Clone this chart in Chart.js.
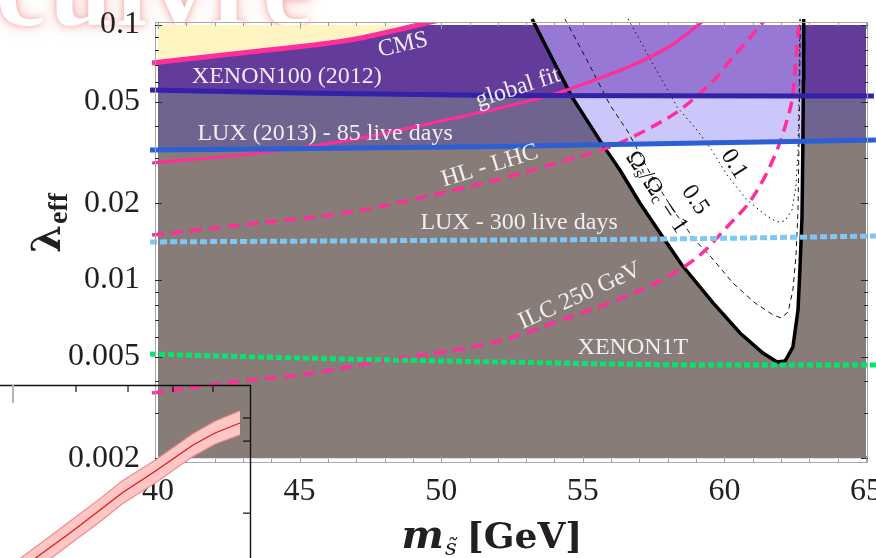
<!DOCTYPE html>
<html>
<head>
<meta charset="utf-8">
<script src="https://cdn.jsdelivr.net/npm/chart.js@4/dist/chart.umd.min.js"></script>
<style>
  html, body { margin: 0; padding: 0; background: #fff; overflow: hidden; width: 876px; height: 558px; }
  #wrap { position: relative; width: 876px; height: 558px; overflow: hidden; }
  #banner { position: absolute; left: -4px; top: -73px; font: bold 112px "Liberation Serif", serif; letter-spacing: 4px;
            color: #fff; white-space: nowrap; z-index: 0; line-height: 120px;
            text-shadow: 0 0 6px rgba(232, 110, 98, .5), 0 0 16px rgba(236, 128, 116, .42); }
  #main { position: absolute; left: 0; top: 0; z-index: 1; }
  #inset { position: absolute; left: -350px; top: 380px; z-index: 2; }
</style>
</head>
<body>
<div id="wrap">
  <div id="banner">cuivre</div>
  <canvas id="main" width="876" height="558"></canvas>
  <canvas id="inset" width="610" height="360"></canvas>
</div>
<script>
// ---------- plot range and ticks ----------
const X_RANGE = [40, 65];            // shaded parameter region, GeV
const Y_RANGE = [0.002, 0.1];        // shaded parameter region, lambda_eff
const X_AXIS = [39.894, 65.071];     // frame limits (a little padding round the region)
const Y_AXIS = [0.001916, 0.10275];
const X_TICKS = [40, 45, 50, 55, 60, 65];
const Y_TICKS = [0.002, 0.005, 0.01, 0.02, 0.05, 0.1];
const Y_TICK_LABELS = ['0.002', '0.005', '0.01', '0.02', '0.05', '0.1'];

// ---------- collider limits (pink) ----------
const CMS_X = [39.79, 43.25, 46.78, 49.95];
const CMS_Y = [0.0710, 0.0784, 0.0873, 0.1046];
const GLOBAL_X = [39.79, 43.25, 46.78, 50.31, 52.08, 53.24, 54.44, 55.61, 56.77, 57.97, 58.54, 59.21];
const GLOBAL_Y = [0.02876, 0.03120, 0.03540, 0.04279, 0.04727, 0.05081, 0.05559, 0.06197, 0.06966, 0.08125, 0.08973, 0.1027];
const HLLHC_X = [39.79, 43.25, 46.78, 50.31, 52.08, 54.44, 55.96, 57.37, 58.43, 59.14, 59.74, 60.30, 60.90, 61.43];
const HLLHC_Y = [0.01501, 0.01658, 0.01848, 0.02234, 0.02490, 0.02955, 0.03324, 0.03945, 0.04642, 0.05412, 0.06253, 0.07493, 0.08892, 0.1046];
const ILC_X = [39.79, 43.25, 45.01, 48.55, 50.91, 52.54, 54.44, 56.21, 57.97, 59.14, 60.09, 61.01, 61.86, 62.21, 62.42, 62.63];
const ILC_Y = [0.003604, 0.004054, 0.004241, 0.004944, 0.005410, 0.005975, 0.007096, 0.008350, 0.01027, 0.01253, 0.01614, 0.02116, 0.03235, 0.04241, 0.05412, 0.1027];

// ---------- direct detection limits ----------
const XENON100_X = [39.72, 45.01, 52.08, 65.28];
const XENON100_Y = [0.05559, 0.05412, 0.05291, 0.05267];
const LUX13_X = [39.72, 52.08, 59.14, 65.35];
const LUX13_Y = [0.03235, 0.03339, 0.03446, 0.03540];
const LUX300_X = [39.72, 52.08, 57.97, 65.35];
const LUX300_Y = [0.01410, 0.01435, 0.01448, 0.01488];
const XENON1T_X = [39.72, 45.01, 52.08, 59.84, 65.35];
const XENON1T_Y = [0.005125, 0.004944, 0.004769, 0.004642, 0.004642];

// ---------- relic density contours (Omega_s / Omega_c) ----------
const RELIC1_X = [53.21, 53.91, 54.62, 55.25, 55.71, 56.31, 57.02, 57.83, 58.50, 59.60, 60.55, 61.36, 61.86, 62.14, 62.42, 62.60, 62.67, 62.74, 62.77, 62.79, 62.80];
const RELIC1_Y = [0.1056, 0.0742, 0.0522, 0.0406, 0.0338, 0.0270, 0.0200, 0.0147, 0.01145, 0.00813, 0.00620, 0.00517, 0.00477, 0.00481, 0.00546, 0.00763, 0.01124, 0.01766, 0.03235, 0.0608, 0.1056];
const RELIC05_X = [54.37, 55.18, 55.96, 56.60, 57.37, 58.19, 58.96, 59.56, 60.30, 61.08, 61.72, 62.00, 62.25, 62.42, 62.53, 62.60, 62.63, 62.66, 62.68];
const RELIC05_Y = [0.1056, 0.0716, 0.04857, 0.03805, 0.02628, 0.01881, 0.01435, 0.0122, 0.00973, 0.00813, 0.00729, 0.0071, 0.00749, 0.00914, 0.01253, 0.01881, 0.03235, 0.0608, 0.1056];
const RELIC01_X = [56.60, 57.44, 58.33, 59.03, 59.60, 60.09, 60.80, 61.50, 61.86, 62.14, 62.39, 62.53, 62.60, 62.63, 62.66];
const RELIC01_Y = [0.1056, 0.0716, 0.04770, 0.03876, 0.03177, 0.02581, 0.02059, 0.01782, 0.01689, 0.01704, 0.01881, 0.02358, 0.03235, 0.05081, 0.1056];

// ---------- lower-left panel: band with central curve ----------
const INSET_X = [5.833, 6.45, 7.0, 7.5, 7.867, 8.45, 9.05, 9.417, 9.833];
const INSET_MID = [4.366, 5.155, 5.831, 6.479, 6.958, 7.606, 8.31, 8.648, 8.93];
const INSET_HIGH = [4.696, 5.465, 6.161, 6.799, 7.298, 7.916, 8.63, 8.978, 9.27];
const INSET_LOW = [4.046, 4.825, 5.521, 6.149, 6.648, 7.276, 7.99, 8.338, 8.60];
const INSET_TOP_TICKS = [7.1, 7.967, 8.717, 9.383];
const INSET_TOP_MAJOR = [6.05];
const INSET_RIGHT_TICKS = [9.07, 8.42, 6.39];

// ---------- helpers (log-linear geometry in data space) ----------
const pts = (xs, ys) => xs.map((x, i) => ({ x, y: ys[i] }));
const lg = Math.log10;
function logAt(c, x) {
  let i = 1;
  while (i < c.length - 1 && c[i].x < x) i++;
  const a = c[i - 1], b = c[i];
  const t = (x - a.x) / (b.x - a.x);
  return lg(a.y) + t * (lg(b.y) - lg(a.y));
}
// pointwise max/min of two curves over the span of f, with crossing points inserted
function combine(f, g, pick) {
  const x0 = f[0].x, x1 = f[f.length - 1].x;
  const xs = [...new Set([...f.map(p => p.x), ...g.map(p => p.x).filter(x => x > x0 && x < x1)])].sort((a, b) => a - b);
  const out = [];
  let prev = null;
  for (const x of xs) {
    const a = logAt(f, x), b = logAt(g, x), d = a - b;
    if (prev && prev.d * d < 0) {
      const xc = prev.x + (x - prev.x) * prev.d / (prev.d - d);
      out.push({ x: xc, y: Math.pow(10, logAt(f, xc)) });
    }
    out.push({ x, y: Math.pow(10, pick(a, b)) });
    prev = { x, d };
  }
  return out;
}
function clipX(c, x0, x1) {
  const at = x => ({ x, y: Math.pow(10, logAt(c, x)) });
  const out = [];
  if (c[0].x < x0) out.push(at(x0));
  for (const p of c) if (p.x >= x0 && p.x <= x1) out.push(p);
  if (c[c.length - 1].x > x1) out.push(at(x1));
  return out;
}

const cms = pts(CMS_X, CMS_Y);
const globalFit = pts(GLOBAL_X, GLOBAL_Y);
const hllhc = pts(HLLHC_X, HLLHC_Y);
const ilc = pts(ILC_X, ILC_Y);
const xenon100 = pts(XENON100_X, XENON100_Y);
const lux13 = pts(LUX13_X, LUX13_Y);
const lux300 = pts(LUX300_X, LUX300_Y);
const xenon1t = pts(XENON1T_X, XENON1T_Y);
const relic1 = pts(RELIC1_X, RELIC1_Y);
const relic05 = pts(RELIC05_X, RELIC05_Y);
const relic01 = pts(RELIC01_X, RELIC01_Y);
const topEdge = [{ x: X_RANGE[0], y: Y_RANGE[1] }, { x: X_RANGE[1], y: Y_RANGE[1] }];

const capTop = c => combine(c, topEdge, Math.min);
const allowedAll = capTop(relic1);
const allowedBelowX100 = capTop(combine(relic1, lux13, Math.max));
const allowedAboveX100 = capTop(combine(relic1, xenon100, Math.max));

// ---------- dataset builders ----------
const NONE = 'rgba(0,0,0,0)';
function area(data, color, order, bound) {
  return { data, borderColor: NONE, borderWidth: 1, backgroundColor: color, fill: { value: bound }, pointRadius: 0, order, tension: 0 };
}
function curve(data, color, width, dash, order, clip, smooth) {
  return {
    data, borderColor: color, borderWidth: width, borderDash: dash, fill: false, pointRadius: 0, order, clip,
    tension: 0, cubicInterpolationMode: smooth ? 'monotone' : 'default', borderCapStyle: 'butt', borderJoinStyle: 'round'
  };
}

const PINK = '#ff2e98';
const datasets = [
  // regions, bottom layer first
  area(topEdge, '#877c77', 100, Y_RANGE[0]),                               // excluded by relic density
  area(clipX(lux13, X_RANGE[0], X_RANGE[1]), '#6e648f', 99, Y_RANGE[1]),   // LUX 2013
  area(clipX(xenon100, X_RANGE[0], X_RANGE[1]), '#623b9b', 98, Y_RANGE[1]),// XENON100
  area(capTop(clipX(cms, X_RANGE[0], X_RANGE[1])), '#fff5c3', 97, Y_RANGE[1]), // CMS
  area(allowedAll, '#ffffff', 96, Y_RANGE[1]),
  area(allowedBelowX100, '#cbc7fb', 95, Y_RANGE[1]),
  area(allowedAboveX100, '#9878d5', 94, Y_RANGE[1]),
  // relic density contours
  curve(relic01, '#111', 1, [1.5, 3.5], 62, { left: 0, top: 4, right: 0, bottom: 0 }, false),
  curve(relic05, '#111', 1, [5, 4], 61, { left: 0, top: 4, right: 0, bottom: 0 }, false),
  curve(relic1, '#000', 3.5, [], 60, { left: 0, top: 4, right: 0, bottom: 0 }, false),
  // collider limits
  curve(cms, PINK, 5, [], 44, { left: 4, top: 0, right: 0, bottom: 0 }, true),
  curve(globalFit, PINK, 3.2, [], 43, { left: 4, top: 0, right: 0, bottom: 0 }, true),
  curve(hllhc, PINK, 3.5, [12, 7], 42, { left: 4, top: 0, right: 0, bottom: 0 }, true),
  curve(ilc, PINK, 3.5, [12, 7], 41, { left: 4, top: 0, right: 0, bottom: 0 }, true),
  // direct detection
  curve(xenon100, '#3321a8', 5, [], 34, { left: 6, top: 0, right: 10, bottom: 0 }, true),
  curve(lux13, '#2b5fd3', 5, [], 33, { left: 6, top: 0, right: 10, bottom: 0 }, true),
  curve(lux300, '#7fc7f4', 5, [7, 3], 32, { left: 6, top: 0, right: 10, bottom: 0 }, true),
  curve(xenon1t, '#00e66e', 5, [6, 3], 31, { left: 6, top: 0, right: 10, bottom: 0 }, true)
];

// ---------- text inside the frame ----------
const SERIF = '"Liberation Serif", "Times New Roman", serif';
const TITLE_SERIF = '"DejaVu Serif", serif';
const LABELS = [
  { text: 'CMS', x: 48.65, y: 0.0835, angle: -13 },
  { text: 'XENON100 (2012)', x: 44.55, y: 0.0625, angle: 0 },
  { text: 'global fit', x: 52.71, y: 0.0566, angle: -18 },
  { text: 'LUX (2013) - 85 live days', x: 45.90, y: 0.0374, angle: 0 },
  { text: 'HL - LHC', x: 51.72, y: 0.0280, angle: -17 },
  { text: 'LUX - 300 live days', x: 52.75, y: 0.01673, angle: 0 },
  { text: 'ILC 250 GeV', x: 54.90, y: 0.00866, angle: -24.5 },
  { text: 'XENON1T', x: 56.77, y: 0.00541, angle: 0 }
];
const CONTOUR_LABELS = [
  { parts: [['Ω', 24, 0], ['s̃', 16, 5], ['/', 24, 0], ['Ω', 24, 0], ['c', 16, 5], [' = 1', 24, 0]], x: 57.60, y: 0.0221, angle: 56 },
  { parts: [['0.5', 24, 0]], x: 58.96, y: 0.0206, angle: 56 },
  { parts: [['0.1', 24, 0]], x: 60.34, y: 0.0285, angle: 58 }
];

function drawParts(ctx, parts, cx, cy, angle, color) {
  ctx.save();
  ctx.translate(cx, cy);
  ctx.rotate(angle * Math.PI / 180);
  ctx.fillStyle = color;
  ctx.textBaseline = 'middle';
  ctx.textAlign = 'left';
  let w = 0;
  for (const [t, s] of parts) { ctx.font = s + 'px ' + SERIF; w += ctx.measureText(t).width; }
  let x = -w / 2;
  for (const [t, s, dy] of parts) {
    ctx.font = s + 'px ' + SERIF;
    ctx.fillText(t, x, dy);
    x += ctx.measureText(t).width;
  }
  ctx.restore();
}

const annotate = {
  id: 'annotate',
  afterDatasetsDraw(chart) {
    const { ctx, scales: { x, y } } = chart;
    for (const l of LABELS)
      drawParts(ctx, [[l.text, 24, 0]], x.getPixelForValue(l.x), y.getPixelForValue(l.y), l.angle, 'rgba(248,244,248,0.95)');
    for (const l of CONTOUR_LABELS)
      drawParts(ctx, l.parts, x.getPixelForValue(l.x), y.getPixelForValue(l.y), l.angle, '#111');
  }
};

// frame with inward ticks on all four sides
const yTickValues = [];
for (let n = -3; n <= -1; n++)
  for (let k = 1; k <= 9; k++) {
    const v = Number((k * Math.pow(10, n)).toPrecision(3));
    if (v >= Y_RANGE[0] && v <= Y_RANGE[1]) yTickValues.push(v);
  }
const frame = {
  id: 'frame',
  afterDatasetsDraw(chart) {
    const { ctx, chartArea: a, scales: { x, y } } = chart;
    ctx.save();
    ctx.lineWidth = 1;
    ctx.strokeStyle = '#a8a8a8';
    ctx.strokeRect(a.left + 0.5, a.top + 0.5, a.right - a.left - 1, a.bottom - a.top - 1);
    ctx.strokeStyle = '#2a2a2a';
    for (const v of yTickValues) {
      const py = Math.round(y.getPixelForValue(v)) + 0.5;
      const len = Y_TICKS.includes(v) ? 7 : 4;
      ctx.beginPath();
      ctx.moveTo(a.left, py); ctx.lineTo(a.left + len, py);
      ctx.moveTo(a.right, py); ctx.lineTo(a.right - len, py);
      ctx.stroke();
    }
    ctx.strokeStyle = '#9c9c9c';
    for (let v = X_RANGE[0]; v <= X_RANGE[1]; v++) {
      const px = Math.round(x.getPixelForValue(v)) + 0.5;
      const len = v % 5 === 0 ? 7 : 4;
      ctx.beginPath();
      ctx.moveTo(px, a.bottom); ctx.lineTo(px, a.bottom - len);
      ctx.moveTo(px, a.top); ctx.lineTo(px, a.top + len);
      ctx.stroke();
    }
    ctx.restore();
  }
};

const titles = {
  id: 'titles',
  afterDraw(chart) {
    const { ctx, chartArea: a } = chart;
    ctx.save();
    ctx.fillStyle = '#231f20';
    ctx.textAlign = 'left';
    ctx.textBaseline = 'alphabetic';
    // horizontal title: m_s~ [GeV]
    const pieces = [['m', 'bold italic 40px ' + TITLE_SERIF, 0, 1], ['s̃', 'italic 23px ' + TITLE_SERIF, 7, 10], ['[GeV]', 'bold 36px ' + TITLE_SERIF, 0, 0]];
    let total = 0;
    for (const [t, f, , gap] of pieces) { ctx.font = f; total += ctx.measureText(t).width + gap; }
    let px = 492 - total / 2;
    const base = a.bottom + 85;
    for (const [t, f, dy, gap] of pieces) { ctx.font = f; ctx.fillText(t, px, base + dy); px += ctx.measureText(t).width + gap; }
    // vertical title: lambda_eff
    ctx.translate(60, 253);
    ctx.rotate(-Math.PI / 2);
    ctx.font = 'bold 40px ' + TITLE_SERIF;
    ctx.fillText('λ', 0, 0);
    const lw = ctx.measureText('λ').width;
    ctx.font = 'bold 28px ' + SERIF;
    ctx.fillText('eff', lw + 1, 7);
    ctx.restore();
  }
};

Chart.defaults.font.family = SERIF;

new Chart(document.getElementById('main'), {
  type: 'line',
  data: { datasets },
  options: {
    responsive: false, animation: false, devicePixelRatio: 1, events: [],
    layout: { padding: { left: 0, top: 22, right: 8, bottom: 0 } },
    plugins: { legend: { display: false }, tooltip: { enabled: false } },
    scales: {
      x: {
        type: 'linear', position: 'bottom', min: X_AXIS[0], max: X_AXIS[1],
        afterBuildTicks(s) { s.ticks = X_TICKS.map(v => ({ value: v })); },
        afterFit(s) { s.height = 95; s.paddingLeft = 0; s.paddingRight = 0; },
        ticks: { autoSkip: false, maxRotation: 0, padding: 9, color: '#231f20', font: { size: 32, family: SERIF }, callback: v => String(v) },
        grid: { display: false, drawTicks: false }, border: { display: false }
      },
      y: {
        type: 'logarithmic', position: 'left', min: Y_AXIS[0], max: Y_AXIS[1],
        afterBuildTicks(s) { s.ticks = Y_TICKS.map(v => ({ value: v })); },
        afterFit(s) { s.width = 155; s.paddingTop = 0; s.paddingBottom = 0; },
        ticks: { autoSkip: false, padding: 15, color: '#231f20', font: { size: 32, family: SERIF },
                 callback: v => { const i = Y_TICKS.indexOf(v); return i >= 0 ? Y_TICK_LABELS[i] : ''; } },
        grid: { display: false, drawTicks: false }, border: { display: false }
      }
    }
  },
  plugins: [frame, annotate, titles]
});

// ---------- lower-left panel ----------
const insetFrame = {
  id: 'insetFrame',
  afterDatasetsDraw(chart) {
    const { ctx, chartArea: a, scales: { x, y } } = chart;
    ctx.save();
    ctx.strokeStyle = '#111';
    ctx.lineWidth = 1.4;
    ctx.beginPath();
    ctx.moveTo(a.left, a.top + 0.5); ctx.lineTo(a.right + 0.5, a.top + 0.5); ctx.lineTo(a.right + 0.5, a.bottom);
    ctx.stroke();
    ctx.lineWidth = 1.2;
    for (const v of INSET_TOP_TICKS) {
      const px = x.getPixelForValue(v);
      ctx.beginPath(); ctx.moveTo(px, a.top); ctx.lineTo(px, a.top + 7); ctx.stroke();
    }
    for (const v of INSET_RIGHT_TICKS) {
      const py = y.getPixelForValue(v);
      ctx.beginPath(); ctx.moveTo(a.right, py); ctx.lineTo(a.right - 7, py); ctx.stroke();
    }
    ctx.strokeStyle = '#b4b4b4';
    ctx.lineWidth = 2;
    for (const v of INSET_TOP_MAJOR) {
      const px = x.getPixelForValue(v);
      ctx.beginPath(); ctx.moveTo(px, a.top); ctx.lineTo(px, a.top + 18); ctx.stroke();
    }
    ctx.restore();
  }
};

new Chart(document.getElementById('inset'), {
  type: 'line',
  data: {
    datasets: [
      { data: pts(INSET_X, INSET_MID), borderColor: '#e8141a', borderWidth: 1.3, fill: false, pointRadius: 0, order: 0 },
      { data: pts(INSET_X, INSET_HIGH), borderColor: '#f08c8c', borderWidth: 1.2, backgroundColor: '#ffc6c6', fill: '+1', pointRadius: 0, order: 2 },
      { data: pts(INSET_X, INSET_LOW), borderColor: '#f08c8c', borderWidth: 1.2, fill: false, pointRadius: 0, order: 1 }
    ]
  },
  options: {
    responsive: false, animation: false, devicePixelRatio: 1, events: [],
    layout: { padding: { left: 0, top: 5, right: 10, bottom: 0 } },
    plugins: { legend: { display: false }, tooltip: { enabled: false } },
    scales: {
      x: { type: 'linear', min: 0, max: 10, display: false },
      y: { type: 'linear', min: 0, max: 10, display: false }
    }
  },
  plugins: [insetFrame]
});
</script>
</body>
</html>
